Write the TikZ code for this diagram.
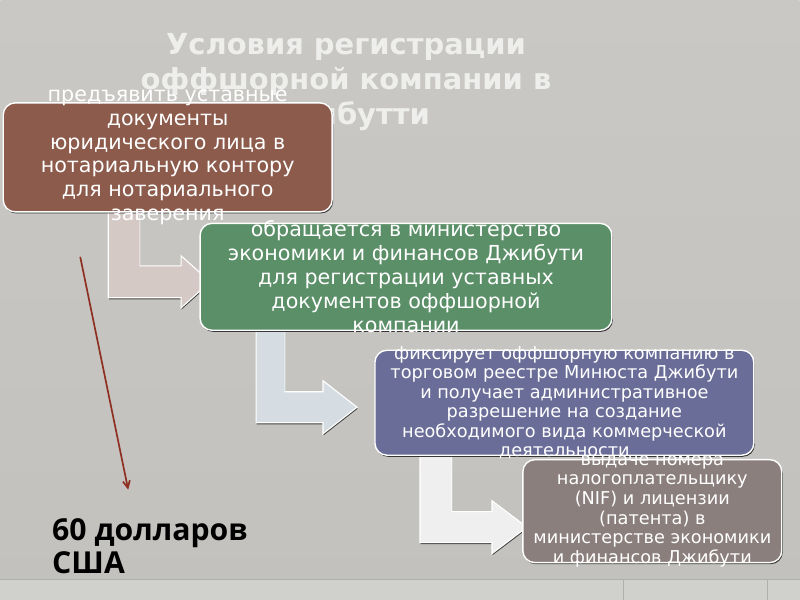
\documentclass[tikz,border=0pt]{standalone}
\usepackage{fontspec}
\setmainfont{DejaVu Sans}
\newfontfamily\pricefont{Open Sans}
\usetikzlibrary{shadows, arrows.meta}

\definecolor{bgtop}{HTML}{C9C8C4}
\definecolor{bgbottom}{HTML}{C2C1BD}
\definecolor{bandgray}{HTML}{D0D0CD}
\definecolor{bandline}{HTML}{AFAFAC}
\definecolor{notarybrown}{HTML}{8C5B4B}
\definecolor{ministrygreen}{HTML}{5B8F68}
\definecolor{registryblue}{HTML}{6A6D98}
\definecolor{taxgray}{HTML}{8A7F7D}
\definecolor{arrowpink}{HTML}{D5C9C5}
\definecolor{arrowblue}{HTML}{D6DDE2}
\definecolor{arrowwhite}{HTML}{EFEFEF}
\definecolor{costred}{HTML}{8E2F22}
\definecolor{titlewhite}{HTML}{EEEEEC}

\begin{document}
\begin{tikzpicture}
    [x=0.025cm, y=-0.025cm,
     stepbox/.style={draw=white, line width=1pt, rounded corners=0.3cm, inner sep=0pt,
       drop shadow={shadow xshift=0.7pt, shadow yshift=-1.1pt, fill=black!85, opacity=0.9}},
     steptext/.style={text=white, align=center, font=\fontsize{14.7}{17}\selectfont},
     smalltext/.style={text=white, align=center, font=\fontsize{12.6}{13.9}\selectfont},
     bentarrow/.style={draw=white, line width=0.8pt,
       drop shadow={shadow xshift=0.4pt, shadow yshift=-1.1pt, fill=black!80, opacity=0.9}},
     titletext/.style={text=titlewhite, align=center, font=\fontsize{20.6}{25}\selectfont\bfseries},
     pricetext/.style={align=left, font=\pricefont\fontsize{21.5}{23.5}\selectfont\bfseries}]

    % slide background
    \shade[top color=bgtop, bottom color=bgbottom] (0,0) rectangle (800,600);
    \fill[bandgray] (0,580) rectangle (800,600);
    \draw[bandline] (0,580) -- (800,580);
    \draw[bandline] (623,580) -- (623,600);
    \draw[bandline] (768,580) -- (768,600);

    \node[titletext] (title) at (346,82)
      {Условия регистрации\\оффшорной компании в\\Джибутти};

    % bent arrows behind the boxes
    \path[bentarrow, fill=arrowpink] (108,205) -- (140,205) -- (140,266) -- (181,266)
      -- (181,256) -- (210,282) -- (181,308) -- (181,298) -- (108,298) -- cycle;
    \path[bentarrow, fill=arrowblue] (256,325) -- (285,325) -- (285,392) -- (323,392)
      -- (323,381) -- (357,407.5) -- (323,434) -- (323,423) -- (256,423) -- cycle;
    \path[bentarrow, fill=arrowwhite] (420,450) -- (452,450) -- (452,512) -- (492,512)
      -- (492,501) -- (527,527.5) -- (492,554) -- (492,543) -- (420,543) -- cycle;

    \node[stepbox, fill=notarybrown, minimum width=8.225cm, minimum height=2.725cm,
      label={[steptext]center:{предъявить уставные\\документы\\юридического лица в\\нотариальную контору\\для нотариального\\заверения}}]
      (notary) at (167.5,157.5) {};
    \node[stepbox, fill=ministrygreen, minimum width=10.3cm, minimum height=2.675cm,
      label={[steptext]center:{обращается в министерство\\экономики и финансов Джибути\\для регистрации уставных\\документов оффшорной\\компании}}]
      (ministry) at (406,277) {};
    \node[stepbox, fill=registryblue, minimum width=9.475cm, minimum height=2.625cm,
      label={[smalltext]center:{фиксирует оффшорную компанию в\\торговом реестре Минюста Джибути\\и получает административное\\разрешение на создание\\необходимого вида коммерческой\\деятельности}}]
      (registry) at (564.5,403) {};
    \node[stepbox, fill=taxgray, minimum width=6.475cm, minimum height=2.575cm,
      label={[smalltext]center:{выдаче номера\\налогоплательщику\\(NIF) и лицензии\\(патента) в\\министерстве экономики\\и финансов Джибути}}]
      (tax) at (652.5,511.5) {};

    % cost pointer
    \coordinate (costfrom) at (80,257);
    \coordinate (costto) at (128,490);
    \draw[costred, line width=1.2pt, -{Straight Barb[length=5pt, width=5pt]}] (costfrom) -- (costto);
    \node[pricetext, anchor=west] (price) at (47,546.5) {60 долларов\\США};
\end{tikzpicture}
\end{document}
